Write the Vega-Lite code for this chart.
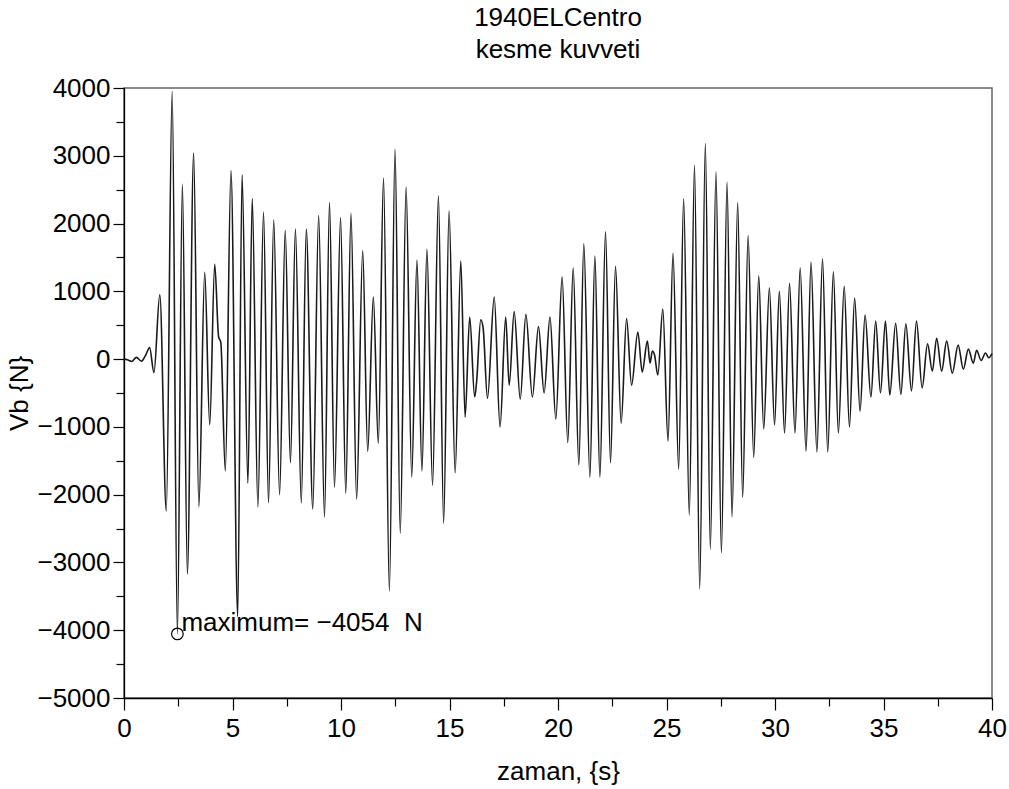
{
  "$schema": "https://vega.github.io/schema/vega-lite/v6.json",
  "width": 868,
  "height": 610,
  "autosize": {"type": "none"},
  "padding": {"left": 124, "top": 88, "right": 17, "bottom": 91},
  "background": "white",
  "config": {
    "font": "Liberation Sans",
    "view": {"stroke": "#666", "strokeWidth": 1.5},
    "axis": {
      "grid": false,
      "domainColor": "black",
      "domainWidth": 1.3,
      "tickColor": "black",
      "tickWidth": 1.2,
      "labelColor": "black",
      "titleColor": "black",
      "labelFontSize": 26,
      "titleFontSize": 26,
      "titleFontWeight": "normal",
      "labelOverlap": false,
      "labelFlush": false
    }
  },
  "title": {
    "text": ["1940ELCentro", "kesme kuvveti"],
    "fontSize": 26,
    "fontWeight": "normal",
    "lineHeight": 32,
    "offset": 12,
    "anchor": "middle",
    "color": "black"
  },
  "datasets": {
    "series": [
      {"t": 0, "v": 0}, {"t": 0.15, "v": -10}, {"t": 0.35, "v": -35}, {"t": 0.57, "v": 25}, {"t": 0.8, "v": -30},
      {"t": 1.0, "v": 60}, {"t": 1.18, "v": 170}, {"t": 1.38, "v": -200}, {"t": 1.65, "v": 950}, {"t": 1.95, "v": -2240},
      {"t": 2.22, "v": 3950}, {"t": 2.46, "v": -4054}, {"t": 2.69, "v": 2580}, {"t": 2.92, "v": -3170}, {"t": 3.21, "v": 3040},
      {"t": 3.45, "v": -2180}, {"t": 3.72, "v": 1280}, {"t": 3.95, "v": -970}, {"t": 4.18, "v": 1400}, {"t": 4.36, "v": 330},
      {"t": 4.46, "v": 250}, {"t": 4.67, "v": -1650}, {"t": 4.93, "v": 2780}, {"t": 5.24, "v": -3800}, {"t": 5.44, "v": 2720},
      {"t": 5.71, "v": -1830}, {"t": 5.91, "v": 2370}, {"t": 6.17, "v": -2180}, {"t": 6.43, "v": 2170}, {"t": 6.66, "v": -2120},
      {"t": 6.9, "v": 2050}, {"t": 7.17, "v": -2000}, {"t": 7.43, "v": 1900}, {"t": 7.67, "v": -1530}, {"t": 7.9, "v": 1920},
      {"t": 8.17, "v": -2120}, {"t": 8.4, "v": 1920}, {"t": 8.7, "v": -2210}, {"t": 8.97, "v": 2120}, {"t": 9.24, "v": -2330},
      {"t": 9.47, "v": 2310}, {"t": 9.7, "v": -1890}, {"t": 9.98, "v": 2090}, {"t": 10.22, "v": -1980}, {"t": 10.46, "v": 2150},
      {"t": 10.72, "v": -2065}, {"t": 11.0, "v": 1600}, {"t": 11.23, "v": -1360}, {"t": 11.49, "v": 915}, {"t": 11.72, "v": -1240},
      {"t": 11.96, "v": 2670}, {"t": 12.23, "v": -3420}, {"t": 12.49, "v": 3100}, {"t": 12.73, "v": -2570}, {"t": 13.0, "v": 2540},
      {"t": 13.26, "v": -1740}, {"t": 13.5, "v": 1460}, {"t": 13.73, "v": -1650}, {"t": 13.96, "v": 1620}, {"t": 14.22, "v": -1860},
      {"t": 14.49, "v": 2410}, {"t": 14.73, "v": -2420}, {"t": 14.98, "v": 2190}, {"t": 15.26, "v": -1680}, {"t": 15.52, "v": 1445},
      {"t": 15.72, "v": -855}, {"t": 15.93, "v": 620}, {"t": 16.16, "v": -560}, {"t": 16.25, "v": -330}, {"t": 16.44, "v": 580},
      {"t": 16.55, "v": 460}, {"t": 16.75, "v": -580}, {"t": 17.06, "v": 915}, {"t": 17.33, "v": -1000}, {"t": 17.59, "v": 620},
      {"t": 17.75, "v": -385}, {"t": 17.98, "v": 700}, {"t": 18.26, "v": -590}, {"t": 18.52, "v": 660}, {"t": 18.82, "v": -560},
      {"t": 19.1, "v": 480}, {"t": 19.36, "v": -500}, {"t": 19.63, "v": 620}, {"t": 19.9, "v": -885}, {"t": 20.19, "v": 1210},
      {"t": 20.45, "v": -1230}, {"t": 20.7, "v": 1345}, {"t": 20.96, "v": -1560}, {"t": 21.19, "v": 1700}, {"t": 21.47, "v": -1740},
      {"t": 21.7, "v": 1520}, {"t": 21.93, "v": -1740}, {"t": 22.19, "v": 1880}, {"t": 22.42, "v": -1530}, {"t": 22.65, "v": 1370},
      {"t": 22.91, "v": -945}, {"t": 23.16, "v": 600}, {"t": 23.39, "v": -385}, {"t": 23.68, "v": 400}, {"t": 23.88, "v": -190},
      {"t": 24.12, "v": 265}, {"t": 24.24, "v": -60}, {"t": 24.35, "v": 120}, {"t": 24.45, "v": 60}, {"t": 24.6, "v": -235},
      {"t": 24.83, "v": 740}, {"t": 25.07, "v": -1210}, {"t": 25.3, "v": 1560}, {"t": 25.56, "v": -1620}, {"t": 25.79, "v": 2370},
      {"t": 26.05, "v": -2300}, {"t": 26.29, "v": 2860}, {"t": 26.53, "v": -3390}, {"t": 26.79, "v": 3180}, {"t": 27.02, "v": -2800},
      {"t": 27.28, "v": 2760}, {"t": 27.53, "v": -2860}, {"t": 27.79, "v": 2610}, {"t": 28.02, "v": -2330}, {"t": 28.28, "v": 2310},
      {"t": 28.51, "v": -2040}, {"t": 28.76, "v": 1820}, {"t": 29.02, "v": -1450}, {"t": 29.25, "v": 1230}, {"t": 29.48, "v": -1030},
      {"t": 29.74, "v": 1050}, {"t": 29.98, "v": -970}, {"t": 30.2, "v": 1000}, {"t": 30.44, "v": -1090}, {"t": 30.67, "v": 1120},
      {"t": 30.92, "v": -1090}, {"t": 31.16, "v": 1345}, {"t": 31.43, "v": -1357}, {"t": 31.66, "v": 1430}, {"t": 31.93, "v": -1370},
      {"t": 32.19, "v": 1480}, {"t": 32.43, "v": -1370}, {"t": 32.69, "v": 1290}, {"t": 32.92, "v": -1090}, {"t": 33.19, "v": 1075},
      {"t": 33.43, "v": -1000}, {"t": 33.67, "v": 900}, {"t": 33.92, "v": -770}, {"t": 34.15, "v": 650}, {"t": 34.42, "v": -560},
      {"t": 34.64, "v": 560}, {"t": 34.86, "v": -500}, {"t": 35.09, "v": 560}, {"t": 35.29, "v": -530}, {"t": 35.56, "v": 530},
      {"t": 35.8, "v": -520}, {"t": 36.03, "v": 520}, {"t": 36.29, "v": -470}, {"t": 36.52, "v": 560}, {"t": 36.78, "v": -425},
      {"t": 37.03, "v": 225}, {"t": 37.25, "v": -177}, {"t": 37.45, "v": 307}, {"t": 37.68, "v": -177}, {"t": 37.91, "v": 265},
      {"t": 38.17, "v": -207}, {"t": 38.44, "v": 207}, {"t": 38.68, "v": -148}, {"t": 38.91, "v": 148}, {"t": 39.14, "v": -60},
      {"t": 39.29, "v": 130}, {"t": 39.5, "v": -20}, {"t": 39.7, "v": 90}, {"t": 39.85, "v": 20}, {"t": 40, "v": 80}
    ],
    "peak": [
      {"t": 2.46, "v": -4054, "label": "maximum= −4054\u00a0\u00a0N"}
    ]
  },
  "encoding": {
    "x": {
      "field": "t",
      "type": "quantitative",
      "scale": {"domain": [0, 40], "nice": false, "zero": false},
      "axis": {
        "title": "zaman, {s}",
        "values": [0, 2.5, 5, 7.5, 10, 12.5, 15, 17.5, 20, 22.5, 25, 27.5, 30, 32.5, 35, 37.5, 40],
        "labelExpr": "datum.value % 5 === 0 ? datum.label : ''",
        "tickSize": {"condition": {"test": "datum.value % 5 === 0", "value": 12}, "value": 8},
        "labelPadding": 5,
        "titlePadding": 17
      }
    },
    "y": {
      "field": "v",
      "type": "quantitative",
      "scale": {"domain": [-5000, 4000], "nice": false, "zero": false},
      "axis": {
        "title": "Vb {N}",
        "values": [-5000, -4500, -4000, -3500, -3000, -2500, -2000, -1500, -1000, -500, 0, 500, 1000, 1500, 2000, 2500, 3000, 3500, 4000],
        "format": "d",
        "labelExpr": "datum.value % 1000 === 0 ? datum.label : ''",
        "tickSize": {"condition": {"test": "datum.value % 1000 === 0", "value": 11}, "value": 8},
        "labelPadding": 3,
        "titlePadding": 4
      }
    }
  },
  "layer": [
    {
      "data": {"name": "series"},
      "mark": {"type": "line", "interpolate": "monotone", "color": "#1a1a1a", "strokeWidth": 1.6}
    },
    {
      "data": {"name": "peak"},
      "mark": {"type": "point", "shape": "circle", "filled": false, "size": 135, "color": "black", "strokeWidth": 1.2, "opacity": 1}
    },
    {
      "data": {"name": "peak"},
      "mark": {"type": "text", "align": "left", "baseline": "alphabetic", "dx": 4, "dy": -3, "fontSize": 26, "color": "black"},
      "encoding": {"text": {"field": "label"}}
    }
  ]
}
